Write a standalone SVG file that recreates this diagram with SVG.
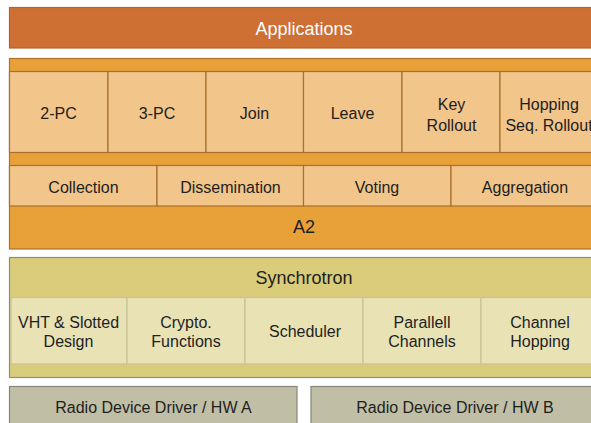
<svg xmlns="http://www.w3.org/2000/svg" width="591" height="423" viewBox="0 0 591 423">
<style>
text{font-family:"Liberation Sans",Arial,sans-serif;font-size:16px;fill:#1e1e1e;text-anchor:middle}
.big{font-size:18px}
.white{fill:#ffffff}
.app{fill:#ce7034;stroke:#a9692e;stroke-width:1.2}
.a2{fill:#e8a039;stroke:#a9702e;stroke-width:1.2}
.cell{fill:#f2c58b;stroke:#a9702e;stroke-width:1.2}
.syn{fill:#d9cc7b;stroke:#8e8c80;stroke-width:1.2}
.scell{fill:#e8e2b5;stroke:#c9c29a;stroke-width:1.2}
.radio{fill:#c0bfa6;stroke:#85857a;stroke-width:1.2}
</style>
<rect width="591" height="423" fill="#ffffff"/>
<g id="applications">
<rect class="app" x="9.5" y="7.5" width="600" height="40.5"/>
<text class="big white" x="304" y="34.5">Applications</text>
</g>
<g id="a2">
<rect class="a2" x="9.5" y="58.5" width="600" height="190.5"/>
<text class="big" x="304" y="232.5">A2</text>
</g>
<g id="c-2pc"><rect class="cell" x="9.5" y="71.5" width="98.5" height="81"/><text x="58.5" y="119">2-PC</text></g>
<g id="c-3pc"><rect class="cell" x="108" y="71.5" width="98" height="81"/><text x="157" y="119">3-PC</text></g>
<g id="c-join"><rect class="cell" x="206" y="71.5" width="97.5" height="81"/><text x="254.5" y="119">Join</text></g>
<g id="c-leave"><rect class="cell" x="303.5" y="71.5" width="98.5" height="81"/><text x="352.5" y="119">Leave</text></g>
<g id="c-key"><rect class="cell" x="402" y="71.5" width="98" height="81"/><text x="451.5" y="109.5">Key</text><text x="451.5" y="130.5">Rollout</text></g>
<g id="c-hop"><rect class="cell" x="500" y="71.5" width="98" height="81"/><text x="549" y="109.5">Hopping</text><text x="549" y="130.5">Seq. Rollout</text></g>
<g id="c-collection"><rect class="cell" x="9.5" y="165.5" width="147.5" height="40.5"/><text x="83.5" y="192.5">Collection</text></g>
<g id="c-dissemination"><rect class="cell" x="157" y="165.5" width="146.5" height="40.5"/><text x="230.5" y="192.5">Dissemination</text></g>
<g id="c-voting"><rect class="cell" x="303.5" y="165.5" width="147.5" height="40.5"/><text x="377" y="192.5">Voting</text></g>
<g id="c-aggregation"><rect class="cell" x="451" y="165.5" width="148" height="40.5"/><text x="525" y="192.5">Aggregation</text></g>
<g id="synchrotron">
<rect class="syn" x="9.5" y="257.5" width="600" height="120"/>
<text class="big" x="304" y="284">Synchrotron</text>
</g>
<g id="s-vht"><rect class="scell" x="11" y="297.5" width="116" height="66.5"/><text x="68.5" y="327.5">VHT &amp; Slotted</text><text x="68.5" y="346.5">Design</text></g>
<g id="s-crypto"><rect class="scell" x="127" y="297.5" width="118" height="66.5"/><text x="186" y="327.5">Crypto.</text><text x="186" y="346.5">Functions</text></g>
<g id="s-scheduler"><rect class="scell" x="245" y="297.5" width="118" height="66.5"/><text x="305" y="337">Scheduler</text></g>
<g id="s-parallel"><rect class="scell" x="363" y="297.5" width="118" height="66.5"/><text x="422" y="327.5">Parallell</text><text x="422" y="346.5">Channels</text></g>
<g id="s-channel"><rect class="scell" x="481" y="297.5" width="118" height="66.5"/><text x="540" y="327.5">Channel</text><text x="540" y="346.5">Hopping</text></g>
<g id="radio-a"><rect class="radio" x="9.5" y="386.5" width="287.5" height="50"/><text x="153.5" y="413">Radio Device Driver / HW A</text></g>
<g id="radio-b"><rect class="radio" x="311" y="386.5" width="300" height="50"/><text x="455" y="413">Radio Device Driver / HW B</text></g>
<g id="connectors"></g>
</svg>
